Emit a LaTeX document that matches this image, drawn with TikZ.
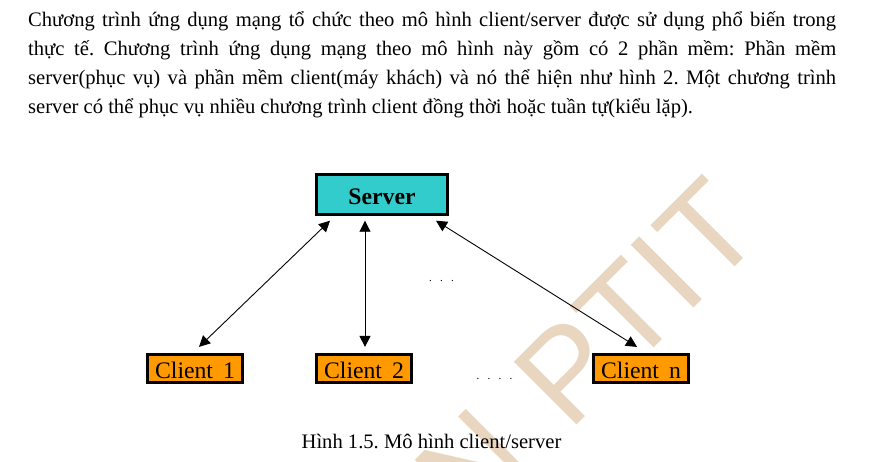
\documentclass[tikz,border=0pt]{standalone}
\usepackage{fontspec}
\setmainfont{Liberation Serif}
\newfontfamily\marksans{Liberation Sans}
\usetikzlibrary{arrows.meta}
\definecolor{servercol}{HTML}{33CCCC}
\definecolor{clientcol}{HTML}{FF9900}
\definecolor{markcol}{HTML}{E9D6C0}

\begin{document}
\begin{tikzpicture}[x=1pt,y=-1pt]
\tikzstyle{server} = [draw,line width=2.4pt,fill=servercol,minimum width=131pt,minimum height=40pt,inner sep=0pt,text height=21pt,text depth=0pt,font=\fontsize{23.7}{28}\selectfont\bfseries]
\tikzstyle{client} = [draw,line width=2.2pt,fill=clientcol,minimum width=95pt,minimum height=28pt,inner sep=0pt,text height=20pt,text depth=0pt,font=\fontsize{23.7}{28}\selectfont]
\tikzstyle{link} = [{Triangle[length=11pt,width=11pt]}-{Triangle[length=11pt,width=11pt]},line width=.9pt]
\tikzstyle{gapdots} = [inner sep=0pt,font=\fontsize{11}{13}\selectfont]

\useasboundingbox (0,0) rectangle (874,462);
\clip (0,0) rectangle (874,462);

% watermark
\node[rotate=45,text=markcol,inner sep=0pt,font=\fontsize{129}{135}\selectfont\marksans] (mark) at (587.5,351.5) {N\hspace{10pt} PTIT};

\node[anchor=north west,inner sep=0pt,text width=808pt,align=justify,font=\frenchspacing\fontsize{20.6}{29}\selectfont] (body) at (28,11) {Chương trình ứng dụng mạng tổ chức theo mô hình client/server được sử dụng phổ biến trong\linebreak
thực tế. Chương trình ứng dụng mạng theo mô hình này gồm có 2 phần mềm: Phần mềm\linebreak
server(phục vụ) và phần mềm client(máy khách) và nó thể hiện như hình 2. Một chương trình\linebreak
server có thể phục vụ nhiều chương trình client đồng thời hoặc tuần tự(kiểu lặp).};

\node[server] (srv) at (382,194.5) {Server};
\node[client] (c1) at (195,368.5) {Client\hspace{10pt}1};
\node[client] (c2) at (364,368.5) {Client\hspace{10pt}2};
\node[client] (cn) at (641,368.5) {Client\hspace{10pt}n};

\draw[link] ([xshift=4pt,yshift=6.5pt]c1.north) -- ([xshift=-52pt,yshift=-5pt]srv.south);
\draw[link] ([xshift=1pt,yshift=6.5pt]c2.north) -- ([xshift=-17pt,yshift=-5pt]srv.south);
\draw[link] ([xshift=-4pt,yshift=6.5pt]cn.north) -- ([xshift=54pt,yshift=-5pt]srv.south);

\node[gapdots] (dots1) at (441.5,281) {.\hspace{8.2pt}.\hspace{8.2pt}.};
\node[gapdots] (dots2) at (494.5,379) {.\hspace{8.2pt}.\hspace{8.2pt}.\hspace{8.2pt}.};

\node[anchor=base,inner sep=0pt,font=\frenchspacing\fontsize{20.6}{24}\selectfont] (caption) at (431.5,448.5) {Hình 1.5. Mô hình client/server};
\end{tikzpicture}
\end{document}
